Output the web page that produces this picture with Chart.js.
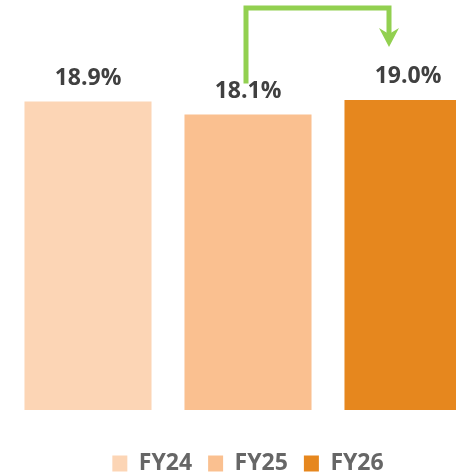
<!DOCTYPE html>
<html>
<head>
<meta charset="utf-8">
<script src="https://cdn.jsdelivr.net/npm/chart.js@4"></script>
<style>
  html, body { margin: 0; padding: 0; background: #fff; overflow: hidden; }
  #wrap { width: 456px; height: 476px; overflow: hidden; }
</style>
</head>
<body>
<div id="wrap"><canvas id="chart" width="516" height="485"></canvas></div>
<script>
// Chart data
const categories = ['FY24', 'FY25', 'FY26'];
const values = [18.9, 18.1, 19.0];
const barColors = ['#FCD5B5', '#FAC090', '#E6871E'];

// Value labels above each bar
const valueLabels = {
  id: 'valueLabels',
  afterDatasetsDraw(chart) {
    const ctx = chart.ctx;
    const meta = chart.getDatasetMeta(0);
    ctx.save();
    ctx.font = 'bold 23px "Open Sans", sans-serif';
    ctx.fillStyle = '#404040';
    ctx.textAlign = 'center';
    ctx.textBaseline = 'alphabetic';
    meta.data.forEach((bar, i) => {
      ctx.fillText(values[i].toFixed(1) + '%', bar.x, bar.y - 17);
    });
    ctx.restore();
  }
};

// Green elbow arrow FY25 -> FY26
const changeArrow = {
  id: 'changeArrow',
  afterDraw(chart) {
    const ctx = chart.ctx;
    const meta = chart.getDatasetMeta(0);
    const from = meta.data[1];
    const to = meta.data[2];
    const x1 = from.x - 2, y1 = from.y - 31;
    const x2 = to.x - 19, tipY = to.y - 53;
    const topY = 8;
    ctx.save();
    ctx.strokeStyle = '#92D050';
    ctx.fillStyle = '#92D050';
    ctx.lineWidth = 5;
    ctx.lineJoin = 'miter';
    ctx.beginPath();
    ctx.moveTo(x1, y1);
    ctx.lineTo(x1, topY);
    ctx.lineTo(x2, topY);
    ctx.lineTo(x2, tipY - 12);
    ctx.stroke();
    // arrow head
    ctx.beginPath();
    ctx.moveTo(x2, tipY);
    ctx.lineTo(x2 - 10, tipY - 19);
    ctx.lineTo(x2, tipY - 13);
    ctx.lineTo(x2 + 10, tipY - 19);
    ctx.closePath();
    ctx.fill();
    ctx.restore();
  }
};

new Chart(document.getElementById('chart'), {
  type: 'bar',
  data: {
    labels: categories,
    datasets: [{
      data: values,
      backgroundColor: barColors,
      borderWidth: 0,
      barPercentage: 0.794,
      categoryPercentage: 1
    }]
  },
  options: {
    responsive: false,
    animation: false,
    devicePixelRatio: 1,
    layout: { padding: { left: 8, right: 28, top: 2, bottom: 0 } },
    scales: {
      x: { display: false },
      y: { display: false, min: 0, max: 25 }
    },
    plugins: {
      tooltip: { enabled: false },
      legend: {
        position: 'bottom',
        // empty title just to push the items down from the bars
        title: { display: true, text: '', font: { size: 1, lineHeight: 1 }, padding: { top: 25, bottom: 0 } },
        labels: {
          boxWidth: 15,
          boxHeight: 16,
          padding: 16,
          color: '#595959',
          font: { family: '"Open Sans", sans-serif', size: 23, weight: 'bold' },
          generateLabels: (chart) => categories.map((c, i) => ({
            text: c,
            fillStyle: barColors[i],
            strokeStyle: barColors[i],
            lineWidth: 0,
            hidden: false,
            index: i
          }))
        }
      }
    }
  },
  plugins: [valueLabels, changeArrow]
});
</script>
</body>
</html>
